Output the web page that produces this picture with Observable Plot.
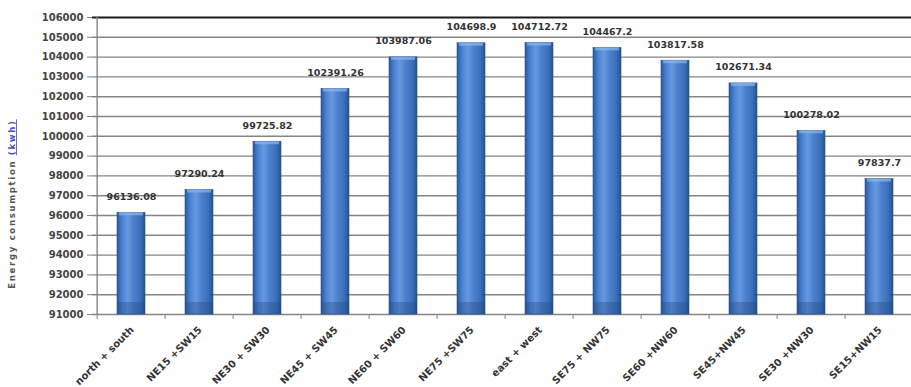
<!DOCTYPE html>
<html>
<head>
<meta charset="utf-8">
<script src="https://cdn.jsdelivr.net/npm/d3@7"></script>
<script src="https://cdn.jsdelivr.net/npm/@observablehq/plot@0.6"></script>
<style>
  html, body { margin: 0; padding: 0; background: #fff; }
  #chart { width: 911px; height: 387px; overflow: hidden; }
</style>
</head>
<body>
<div id="chart"></div>
<script>
const categories = [
  "north + south", "NE15 +SW15", "NE30 + SW30", "NE45 + SW45", "NE60 + SW60", "NE75 +SW75",
  "east + west", "SE75 + NW75", "SE60 +NW60", "SE45+NW45", "SE30 +NW30", "SE15+NW15"
];
const values = [
  96136.08, 97290.24, 99725.82, 102391.26, 103987.06, 104698.9,
  104712.72, 104467.2, 103817.58, 102671.34, 100278.02, 97837.7
];
const yTicks = [91000, 92000, 93000, 94000, 95000, 96000, 97000, 98000, 99000, 100000,
  101000, 102000, 103000, 104000, 105000, 106000];
const yTitle = "Energy consumption ";
const yUnit = "(kwh)";

const data = categories.map((c, i) => ({category: c, value: values[i]}));
const yMin = yTicks[0], yMax = yTicks[yTicks.length - 1];
const font = "DejaVu Sans";
const half = (917 - 92.6) / categories.length / 2;

const chart = Plot.plot({
  width: 911,
  height: 387,
  marginTop: 17,
  marginBottom: 73,
  marginLeft: 92,
  marginRight: 0,
  style: {fontFamily: font, background: "transparent"},
  x: {domain: categories, range: [92.6, 917], paddingInner: 0.59, paddingOuter: 0.295, axis: null},
  y: {domain: [yMin, yMax], axis: null},
  marks: [
    Plot.ruleY(yTicks.slice(1, -1), {stroke: "#858585", strokeWidth: 1.4}),
    Plot.ruleY([yMax], {stroke: "#1a1a1a", strokeWidth: 2}),
    Plot.ruleY([yMin], {stroke: "#858585", strokeWidth: 1.4}),
    Plot.ruleX([categories[0]], {x: d => d, dx: -half, y1: yMin, y2: yMax, stroke: "#858585", strokeWidth: 1.4}),
    Plot.axisY({ticks: yTicks, tickSize: 5, tickPadding: 4, tickFormat: d3.format("d"),
      fontSize: 10, fontWeight: "bold", fill: "#444", stroke: "#858585", label: null}),
    Plot.axisX({tickSize: 5, dx: -half, tickFormat: () => "", stroke: "#858585", label: null}),
    Plot.barY(data, {x: "category", y1: yMin, y2: "value", fill: "url(#barGrad)", stroke: "#2a5496", strokeWidth: 0.6}),
    Plot.barY(data, {x: "category", y1: yMin, y2: yMin, insetTop: -12, fill: "#23487f", fillOpacity: 0.35}),
    Plot.barY(data, {x: "category", y1: "value", y2: "value", insetBottom: -3, insetLeft: 2, insetRight: 2, fill: "#8db8ee", fillOpacity: 0.7}),
    Plot.text(data, {x: "category", y: "value", text: d => String(d.value), dy: -16,
      fontSize: 9.5, fontWeight: "bold", fill: "#333"}),
    Plot.text(categories, {x: d => d, y: () => yMin, text: d => d, rotate: -45, textAnchor: "end",
      lineAnchor: "top", dy: 11, dx: -2, fontSize: 10, fontWeight: "bold", fill: "#333"})
  ]
});

const defs = d3.create("svg:defs");
const grad = defs.append("linearGradient").attr("id", "barGrad").attr("x1", "0").attr("x2", "1").attr("y1", "0").attr("y2", "0");
[["0%", "#2a589c"], ["18%", "#4a82cf"], ["38%", "#6699e0"], ["60%", "#4a80cc"], ["85%", "#3a6db8"], ["100%", "#24508f"]]
  .forEach(([o, c]) => grad.append("stop").attr("offset", o).attr("stop-color", c));
chart.insertBefore(defs.node(), chart.firstChild);

// y-axis title
const t = d3.select(chart).append("text")
  .attr("transform", "translate(15,204) rotate(-90)")
  .attr("text-anchor", "middle")
  .attr("font-family", font)
  .attr("font-size", 8.5)
  .attr("font-weight", "bold")
  .attr("letter-spacing", 1.7)
  .attr("fill", "#555");
t.append("tspan").text(yTitle);
t.append("tspan").attr("fill", "#4b4bc8").attr("text-decoration", "underline").text(yUnit);

document.getElementById("chart").appendChild(chart);
</script>
</body>
</html>
